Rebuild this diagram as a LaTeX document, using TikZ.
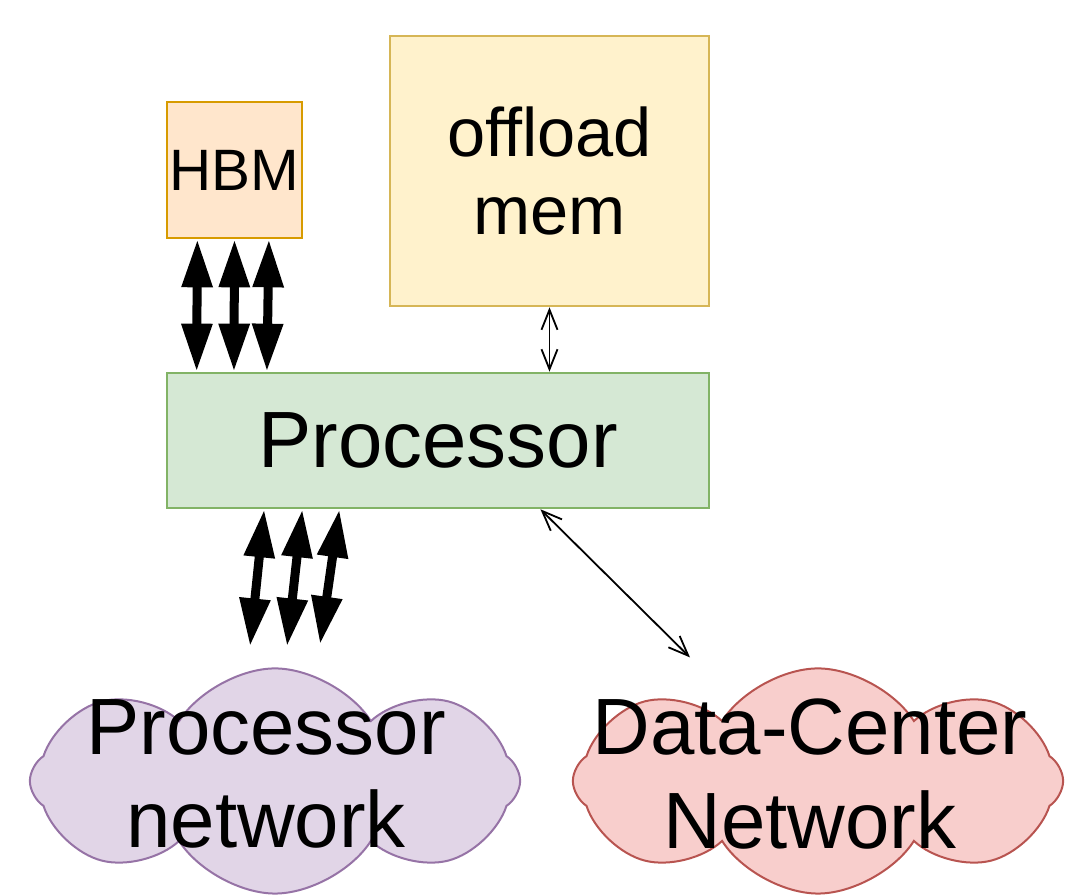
\documentclass[tikz,border=0pt]{standalone}
\usepackage{fontspec}
\setmainfont{Liberation Sans}
\usepackage{tikz}
\usetikzlibrary{positioning,calc,arrows.meta,shapes.symbols}
\usepackage{xcolor}

\definecolor{hbmfill}{HTML}{FFE6CC}
\definecolor{hbmline}{HTML}{D79B00}
\definecolor{memfill}{HTML}{FFF2CC}
\definecolor{memline}{HTML}{D6B656}
\definecolor{procfill}{HTML}{D5E8D4}
\definecolor{procline}{HTML}{82B366}
\definecolor{pnetfill}{HTML}{E1D5E7}
\definecolor{pnetline}{HTML}{9673A6}
\definecolor{dcnfill}{HTML}{F8CECC}
\definecolor{dcnline}{HTML}{B85450}

\tikzset{
  unitbox/.style={rectangle,draw,line width=0.025cm,align=center,inner sep=0pt},
  netcloud/.style={cloud,cloud puffs=8,cloud puff arc=115,cloud ignores aspect,draw,line width=0.02cm,
    minimum width=4.9cm,minimum height=2.25cm,inner sep=0pt},
  cloudtext/.style={align=center,font=\fontsize{22.7}{26.5}\selectfont},
  fatarrow/.style={line width=0.09cm,{Triangle[length=0.48cm,width=0.29cm]}-{Triangle[length=0.48cm,width=0.29cm]}},
  thinarrow/.style={line width=0.018cm,{Straight Barb[length=0.2cm,width=0.16cm]}-{Straight Barb[length=0.2cm,width=0.16cm]}}
}

\begin{document}
\begin{tikzpicture}[x=0.01cm,y=-0.01cm]
\useasboundingbox (0,0) rectangle (1087,895);
% boxes
\node[unitbox,fill=hbmfill,draw=hbmline,minimum width=1.35cm,minimum height=1.36cm,
  font=\fontsize{16.6}{19}\selectfont] (hbm) at (234.5,170) {HBM};
\node[unitbox,fill=memfill,draw=memline,minimum width=3.19cm,minimum height=2.70cm,
  font=\fontsize{19.5}{22}\selectfont] (mem) at (549.5,171) {offload\\mem};
\node[unitbox,fill=procfill,draw=procline,minimum width=5.42cm,minimum height=1.35cm,
  font=\fontsize{22.7}{26}\selectfont] (proc) at (438,440.5) {Processor};
% networks
\node[netcloud,fill=pnetfill,draw=pnetline] (pnetshape) at (275,781) {};
\node[cloudtext] (pnet) at (266,774) {Processor\\network};
\node[netcloud,fill=dcnfill,draw=dcnline] (dcnshape) at (818,781) {};
\node[cloudtext] (dcn) at (810,774) {Data-Center\\Network};
% links
\foreach \a/\b in {0.23/0.057,0.5/0.1255,0.75/0.186}
  \draw[fatarrow] ($(hbm.south west)!\a!(hbm.south east)$) -- ($(proc.north west)!\b!(proc.north east)$);
\foreach \a/\dx/\dy in {0.181/-25/-21,0.251/12/-21,0.319/45/-23}
  \draw[fatarrow] ($(proc.south west)!\a!(proc.south east)$) -- ($(pnetshape.north)+(\dx,\dy)$);
\draw[thinarrow] (mem.south) -- (mem.south |- proc.north);
\draw[thinarrow] ($(proc.south west)!0.688!(proc.south east)$) -- ($(dcnshape.north)+(-128,-10)$);
\end{tikzpicture}
\end{document}
